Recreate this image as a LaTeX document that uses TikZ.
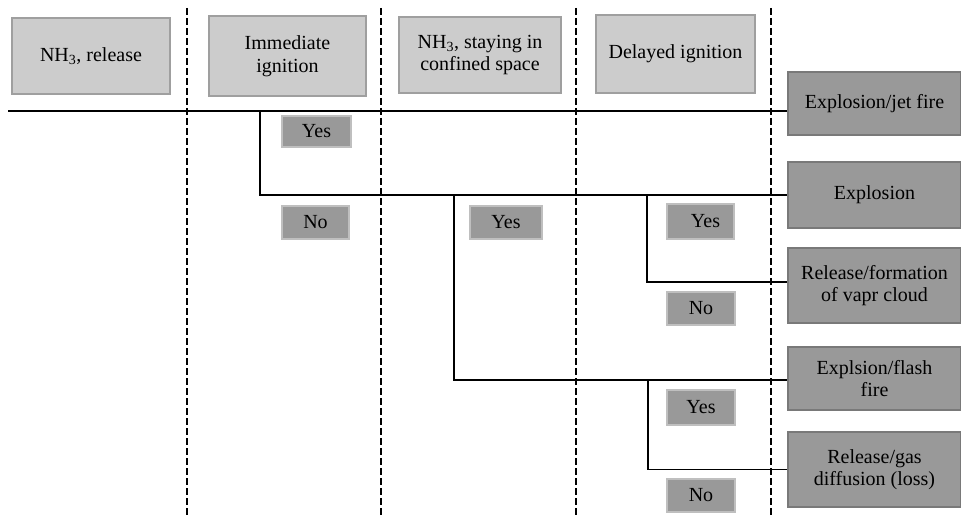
\documentclass[tikz,border=0pt]{standalone}
\usepackage{fontspec}
\setmainfont{Liberation Serif}
\begin{document}
\begin{tikzpicture}[x=1pt,y=-1pt,
  every node/.style={font=\fontsize{20}{22.5}\selectfont, inner sep=0pt, align=center, text=black},
  headbox/.style={draw=gray!75!white, fill=gray!40!white, line width=1.2pt},
  endbox/.style={draw=gray!95!black, fill=gray!80!white, line width=1.4pt, minimum width=173pt},
  ynbox/.style={draw=gray!50!white, fill=gray!80!white, line width=1.2pt},
  sep/.style={line width=2pt, dash pattern=on 7pt off 3pt},
  sepb/.style={line width=2.6pt, dash pattern=on 7pt off 3pt},
  tree/.style={line width=1.6pt, black}]
\useasboundingbox (0,0) rectangle (961,516);
% separators
\coordinate (d1t) at (187,8);  \coordinate (d1b) at (187,516);
\coordinate (d2t) at (381,8);  \coordinate (d2b) at (381,516);
\coordinate (d3t) at (576,8);  \coordinate (d3b) at (576,516);
\coordinate (d4t) at (771,8);  \coordinate (d4b) at (771,516);
\draw[sep] (d1t) -- (d1b);
\draw[sep] (d2t) -- (d2b);
\draw[sepb] (d3t) -- (d3b);
\draw[sepb] (d4t) -- (d4b);
% header boxes
\node[headbox, minimum width=158pt, minimum height=76pt] (h1) at (91,56) {NH\textsubscript{3}, release};
\node[headbox, minimum width=157pt, minimum height=80pt] (h2) at (287.5,56) {Immediate\\ignition};
\node[headbox, minimum width=162pt, minimum height=76pt] (h3) at (480,55) {NH\textsubscript{3}, staying in\\confined space};
\node[headbox, minimum width=159pt, minimum height=78pt] (h4) at (675.5,54) {Delayed ignition};
% end boxes
\node[endbox, minimum height=63pt] (r1) at (874.5,103.5) {Explosion/jet fire};
\node[endbox, minimum height=66pt] (r2) at (874.5,195) {Explosion};
\node[endbox, minimum height=75pt] (r3) at (874.5,285.5) {Release/formation\\of vapr cloud};
\node[endbox, minimum height=63pt] (r4) at (874.5,378.5) {Explsion/flash\\fire};
\node[endbox, minimum height=75pt] (r5) at (874.5,469.5) {Release/gas\\diffusion (loss)};
% yes/no boxes
\node[ynbox, minimum width=69pt, minimum height=31pt] (y1) at (316.5,131.5) {Yes};
\node[ynbox, minimum width=67pt, minimum height=33pt] (n1) at (315.5,222.5) {No};
\node[ynbox, minimum width=72pt, minimum height=33pt] (y2) at (506,222.5) {Yes};
\node[ynbox, minimum width=67pt, minimum height=35pt] (y3) at (700.5,221.5) {\hspace*{10pt}Yes};
\node[ynbox, minimum width=68pt, minimum height=33pt] (n3) at (701,308.5) {No};
\node[ynbox, minimum width=68pt, minimum height=35pt] (y4) at (701,407.5) {Yes};
\node[ynbox, minimum width=68pt, minimum height=33pt] (n4) at (701,495.5) {No};
% tree
\coordinate (s0) at (8,111);
\coordinate (b1) at (260,111);
\coordinate (b2) at (454,195);
\coordinate (b3) at (647,195);
\coordinate (b4) at (648,380);
\draw[tree] (s0) -- (s0 -| r1.west);
\draw[tree] (b1) |- (r2.west);
\draw[tree] (b2) |- ([yshift=-1.5pt]r4.west);
\draw[tree] (b3) |- ([yshift=3.5pt]r3.west);
\draw[tree] (b4) |- (r5.west);
\end{tikzpicture}
\end{document}
